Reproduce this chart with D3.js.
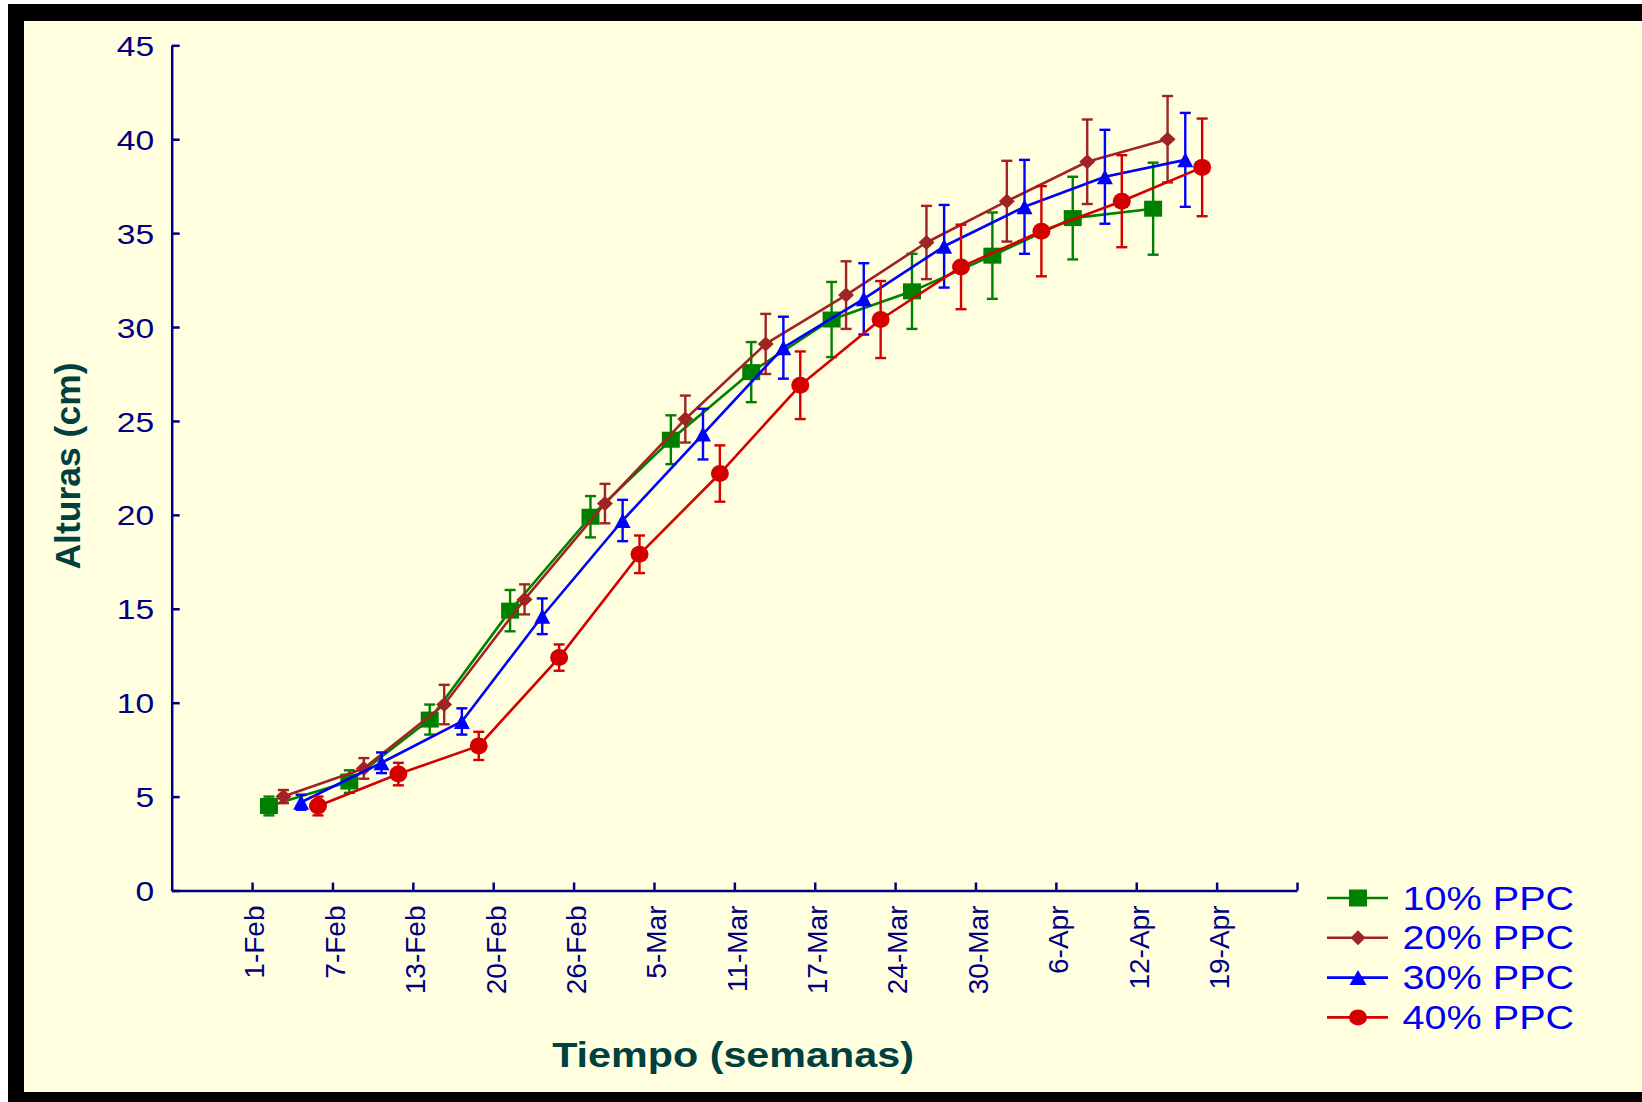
<!DOCTYPE html>
<html>
<head>
<meta charset="utf-8">
<script src="https://cdn.jsdelivr.net/npm/d3@7"></script>
<style>
  html, body { margin: 0; padding: 0; background: #fff; }
  svg { display: block; }
</style>
</head>
<body>
<svg id="chart" width="1642" height="1102"></svg>
<script>
// Alturas por semana, cuatro tratamientos PPC

// ─── Data ─────────────────────────────────────────────────────────────────────
const weeks   = ['1-Feb', '7-Feb', '13-Feb', '20-Feb', '26-Feb', '5-Mar', '11-Mar',
                 '17-Mar', '24-Mar', '30-Mar', '6-Apr', '12-Apr', '19-Apr'];
const yTicks  = [0, 5, 10, 15, 20, 25, 30, 35, 40, 45];
const seriesNames   = ['10% PPC', '20% PPC', '30% PPC', '40% PPC'];
const seriesOffsets = [0.21, 0.39, 0.61, 0.82];   // position inside each week

const ppc10    = [4.5, 5.8, 9.1, 14.9, 19.9, 24.0, 27.6, 30.4, 31.9, 33.8, 35.8, 36.3];
const ppc10Err = [0.5, 0.6, 0.8, 1.1, 1.1, 1.3, 1.6, 2.0, 2.0, 2.3, 2.2, 2.45];
const ppc20    = [5.0, 6.5, 9.9, 15.5, 20.6, 25.1, 29.1, 31.7, 34.5, 36.7, 38.8, 40.0];
const ppc20Err = [0.35, 0.55, 1.05, 0.8, 1.05, 1.25, 1.6, 1.8, 1.95, 2.15, 2.25, 2.3];
const ppc30    = [4.7, 6.8, 9.0, 14.6, 19.7, 24.3, 28.9, 31.5, 34.3, 36.4, 38.0, 38.9];
const ppc30Err = [0.4, 0.55, 0.7, 0.95, 1.1, 1.35, 1.65, 1.9, 2.2, 2.5, 2.5, 2.5];
const ppc40    = [4.5, 6.2, 7.7, 12.4, 17.9, 22.2, 26.9, 30.4, 33.2, 35.1, 36.7, 38.5];
const ppc40Err = [0.5, 0.6, 0.75, 0.7, 1.0, 1.5, 1.8, 2.05, 2.25, 2.4, 2.45, 2.6];

const seriesValues = [ppc10, ppc20, ppc30, ppc40];
const seriesErrors = [ppc10Err, ppc20Err, ppc30Err, ppc40Err];

// ─── Style ────────────────────────────────────────────────────────────────────
const FONT   = '"Liberation Sans", Arial, sans-serif';
const NAVY   = '#000080';
const TEAL   = '#004040';
const CREAM  = '#ffffe0';
const colors = ['#008000', '#a02424', '#0000ff', '#d40000'];
const shapes = ['square', 'diamond', 'triangle', 'circle'];

const W = 1642, H = 1102;
const svg = d3.select('#chart');

function markerPath(shape, w, h) {
  if (shape === 'square')   return `M${-w/2},${-h/2}h${w}v${h}h${-w}Z`;
  if (shape === 'diamond')  return `M0,${-h/2}L${w/2},0L0,${h/2}L${-w/2},0Z`;
  if (shape === 'triangle') return `M0,${-h/2}L${w/2},${h/2}L${-w/2},${h/2}Z`;
  return `M${-w/2},0a${w/2},${h/2} 0 1,0 ${w},0a${w/2},${h/2} 0 1,0 ${-w},0Z`;
}
const plotSize   = { square: [18, 16], diamond: [16, 15], triangle: [16, 15], circle: [18, 17] };
const legendSize = { square: [18, 17], diamond: [15, 15], triangle: [17, 15], circle: [18, 16] };

// ─── Frame ────────────────────────────────────────────────────────────────────
svg.append('rect').attr('x', 8).attr('y', 4).attr('width', W - 8).attr('height', H - 4)
  .attr('fill', '#000');
svg.append('rect').attr('x', 24).attr('y', 21).attr('width', W - 24).attr('height', 1092 - 21)
  .attr('fill', CREAM);

// ─── Scales ───────────────────────────────────────────────────────────────────
const x = d3.scaleLinear().domain([-1, 13]).range([171.7, 1297]);
const y = d3.scaleLinear().domain([0, 45]).range([890.5, 45.3]);

// ─── Axes ─────────────────────────────────────────────────────────────────────
const gy = svg.append('g')
  .attr('transform', `translate(${x(-1)},0)`)
  .call(d3.axisLeft(y).tickValues(yTicks).tickSize(-8).tickSizeOuter(0));
gy.attr('font-family', FONT).attr('font-size', 28);
gy.select('.domain').attr('stroke', NAVY).attr('stroke-width', 2.5);
gy.selectAll('.tick line').attr('stroke', NAVY).attr('stroke-width', 2.5);
gy.selectAll('.tick text')
  .attr('x', 0).attr('dy', '0.36em')
  .attr('transform', 'translate(-17.5,0) scale(1.2,1)')
  .attr('fill', NAVY);

const gx = svg.append('g')
  .attr('transform', `translate(0,${y(0)})`)
  .call(d3.axisBottom(x).tickValues(d3.range(0, 14)).tickSize(-8).tickSizeOuter(0)
    .tickFormat(i => weeks[i] || ''));
gx.attr('font-family', FONT).attr('font-size', 28);
gx.select('.domain').attr('stroke', NAVY).attr('stroke-width', 2.5);
gx.selectAll('.tick line').attr('stroke', NAVY).attr('stroke-width', 2.5);
gx.selectAll('.tick text')
  .attr('x', 0).attr('y', 0).attr('dy', '0.35em')
  .attr('text-anchor', 'end')
  .attr('transform', 'translate(2,15) rotate(-90)')
  .attr('fill', NAVY);

// Axis titles
svg.append('text')
  .attr('transform', 'translate(80,466) rotate(-90)')
  .attr('text-anchor', 'middle')
  .attr('font-family', FONT).attr('font-size', 35.5).attr('font-weight', 'bold')
  .attr('fill', TEAL)
  .text('Alturas (cm)');

svg.append('text')
  .attr('transform', 'translate(733,1067) scale(1.18,1)')
  .attr('text-anchor', 'middle')
  .attr('font-family', FONT).attr('font-size', 35).attr('font-weight', 'bold')
  .attr('fill', TEAL)
  .text('Tiempo (semanas)');

// ─── Series ───────────────────────────────────────────────────────────────────
const line = d3.line()
  .x(d => x(d.x))
  .y(d => y(d.v));

seriesNames.forEach((name, s) => {
  const color = colors[s];
  const pts = seriesValues[s].map((v, i) => ({ x: i + seriesOffsets[s], v, e: seriesErrors[s][i] }));
  const g = svg.append('g');

  g.append('path')
    .attr('d', line(pts))
    .attr('fill', 'none')
    .attr('stroke', color)
    .attr('stroke-width', 2.6)
    .attr('stroke-linejoin', 'round');

  const eb = g.append('g').attr('stroke', color).attr('stroke-width', 2.4);
  eb.selectAll('line.v').data(pts).join('line').attr('class', 'v')
    .attr('x1', d => x(d.x)).attr('x2', d => x(d.x))
    .attr('y1', d => y(d.v + d.e)).attr('y2', d => y(d.v - d.e));
  eb.selectAll('line.t').data(pts).join('line').attr('class', 't')
    .attr('x1', d => x(d.x) - 5.5).attr('x2', d => x(d.x) + 5.5)
    .attr('y1', d => y(d.v + d.e)).attr('y2', d => y(d.v + d.e));
  eb.selectAll('line.b').data(pts).join('line').attr('class', 'b')
    .attr('x1', d => x(d.x) - 5.5).attr('x2', d => x(d.x) + 5.5)
    .attr('y1', d => y(d.v - d.e)).attr('y2', d => y(d.v - d.e));

  const [mw, mh] = plotSize[shapes[s]];
  g.selectAll('path.mk').data(pts).join('path').attr('class', 'mk')
    .attr('d', markerPath(shapes[s], mw, mh))
    .attr('transform', d => `translate(${x(d.x)},${y(d.v)})`)
    .attr('fill', color);
});

// ─── Legend ───────────────────────────────────────────────────────────────────
const legend = svg.append('g');
seriesNames.forEach((name, s) => {
  const ly = 898 + s * 39.8;
  legend.append('line')
    .attr('x1', 1327).attr('x2', 1388).attr('y1', ly).attr('y2', ly)
    .attr('stroke', colors[s]).attr('stroke-width', 2.6);
  const [lw, lh] = legendSize[shapes[s]];
  legend.append('path')
    .attr('d', markerPath(shapes[s], lw, lh))
    .attr('transform', `translate(1358,${ly})`)
    .attr('fill', colors[s]);
  legend.append('text')
    .attr('transform', `translate(1402.5,${ly}) scale(1.2,1)`)
    .attr('dy', '0.35em')
    .attr('font-family', FONT).attr('font-size', 33)
    .attr('fill', '#0000f0')
    .text(name);
});
</script>
</body>
</html>
